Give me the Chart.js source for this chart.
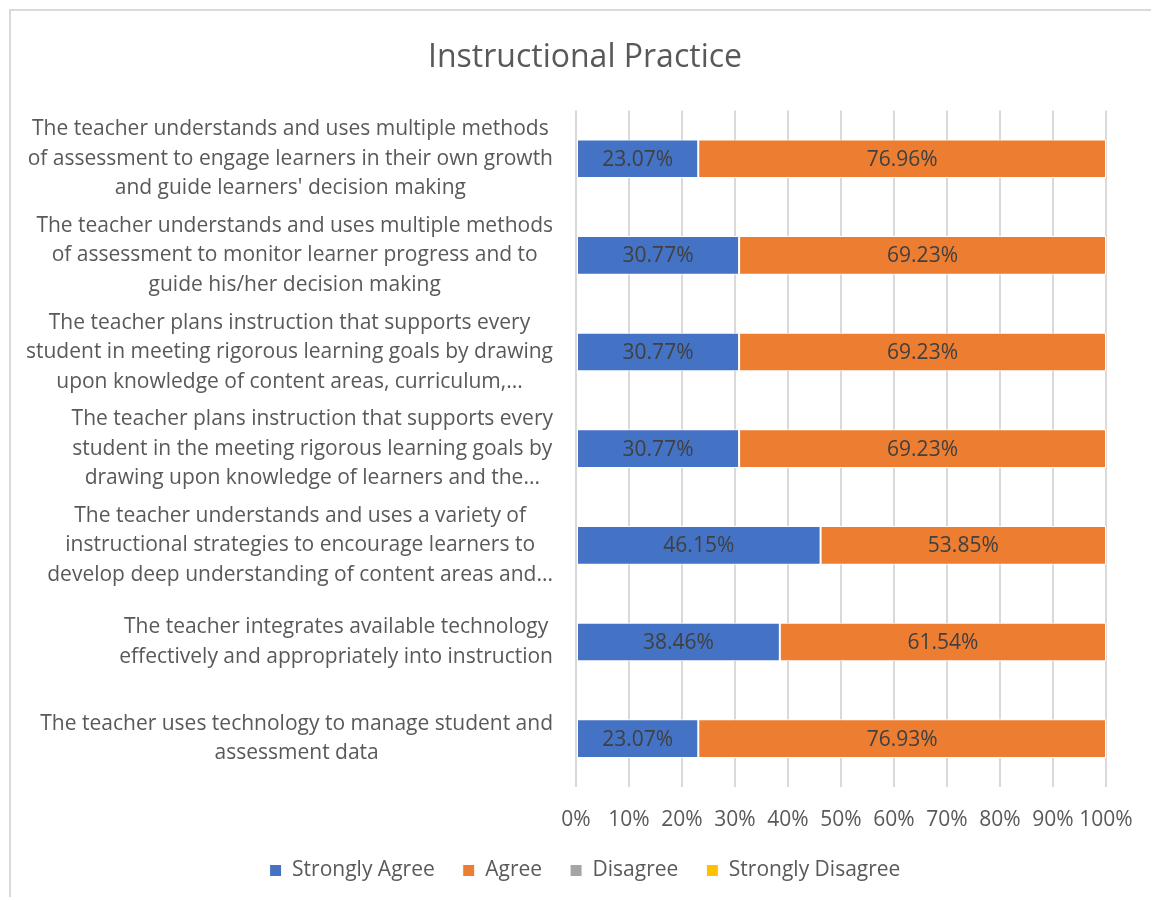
<!DOCTYPE html>
<html>
<head>
<meta charset="utf-8">
<title>Instructional Practice</title>
<script src="https://cdn.jsdelivr.net/npm/chart.js@4.4.1/dist/chart.umd.min.js"></script>
<style>
    html, body { margin: 0; padding: 0; background: #ffffff; overflow: hidden; }
    #frame {
        position: absolute; left: 9px; top: 9px; width: 1140px; height: 886px;
        border-left: 2px solid #d9d9d9; border-top: 2px solid #d9d9d9;
    }
    #wrap { position: absolute; left: 0; top: 0; width: 1154px; height: 900px; }
</style>
</head>
<body>
<div id="frame"></div>
<div id="wrap"><canvas id="myChart" width="1154" height="900"></canvas></div>
<script>
// categories, top to bottom (line breaks as in the picture)
const categories = [
    ["The teacher understands and uses multiple methods", "of assessment to engage learners in their own growth", "and guide learners' decision making"],
    ["The teacher understands and uses multiple methods", "of assessment to monitor learner progress and to", "guide his/her decision making"],
    ["The teacher plans instruction that supports every", "student in meeting rigorous learning goals by drawing", "upon knowledge of content areas, curriculum,..."],
    ["The teacher plans instruction that supports every", "student in the meeting rigorous learning goals by", "drawing upon knowledge of learners and the..."],
    ["The teacher understands and uses a variety of", "instructional strategies to encourage learners to", "develop deep understanding of content areas and..."],
    ["The teacher integrates available technology", "effectively and appropriately into instruction"],
    ["The teacher uses technology to manage student and", "assessment data"]
];

const stronglyAgree    = [23.07, 30.77, 30.77, 30.77, 46.15, 38.46, 23.07];
const agree            = [76.96, 69.23, 69.23, 69.23, 53.85, 61.54, 76.93];
const disagree         = [0, 0, 0, 0, 0, 0, 0];
const stronglyDisagree = [0, 0, 0, 0, 0, 0, 0];

const seriesNames = ['Strongly Agree', 'Agree', 'Disagree', 'Strongly Disagree'];
const seriesColors = ['#4472C4', '#ED7D31', '#A5A5A5', '#FFC000'];
const xTicks = [0, 10, 20, 30, 40, 50, 60, 70, 80, 90, 100];

const FONT = '"Open Sans", "Noto Sans", sans-serif';
const TEXT = '#595959';

// 100% stacked: scale each row to its total
const raw = [stronglyAgree, agree, disagree, stronglyDisagree];
const totals = categories.map((c, i) => raw.reduce((s, arr) => s + arr[i], 0));

// category labels: block right aligned, lines centred inside the block (like Excel)
const leftLabels = {
    id: 'leftLabels',
    afterDraw(chart) {
        const ctx = chart.ctx;
        const y = chart.scales.y;
        ctx.save();
        ctx.font = '21px ' + FONT;
        ctx.fillStyle = TEXT;
        ctx.textAlign = 'center';
        ctx.textBaseline = 'middle';
        const right = chart.chartArea.left - 23;
        const lh = 29.5;
        categories.forEach((lines, i) => {
            const w = Math.max(...lines.map(l => ctx.measureText(l).width));
            const cx = right - w / 2;
            const cy = y.getPixelForTick(i);
            lines.forEach((l, j) => {
                ctx.fillText(l, cx, cy + (j - (lines.length - 1) / 2) * lh);
            });
        });
        ctx.restore();
    }
};

// value labels inside the bars
const valueLabels = {
    id: 'valueLabels',
    afterDatasetsDraw(chart) {
        const ctx = chart.ctx;
        ctx.save();
        ctx.font = '21px ' + FONT;
        ctx.fillStyle = '#404040';
        ctx.textAlign = 'center';
        ctx.textBaseline = 'middle';
        raw.forEach((arr, di) => {
            chart.getDatasetMeta(di).data.forEach((bar, i) => {
                if (!arr[i]) return;
                const p = bar.getCenterPoint();
                ctx.fillText(arr[i].toFixed(2) + '%', p.x, p.y + 1);
            });
        });
        ctx.restore();
    }
};

const ctx = document.getElementById('myChart').getContext('2d');
const myChart = new Chart(ctx, {
    type: 'bar',
    data: {
        labels: categories,
        datasets: raw.map((arr, k) => ({
            label: seriesNames[k],
            data: arr.map((v, i) => v / totals[i] * 100),
            backgroundColor: seriesColors[k],
            borderColor: '#ffffff',
            borderWidth: 1,
            borderSkipped: false,
            barPercentage: 0.4,
            categoryPercentage: 1
        }))
    },
    options: {
        indexAxis: 'y',
        responsive: false,
        animation: false,
        layout: { padding: { top: 29, left: 64, right: 48, bottom: 9 } },
        plugins: {
            title: {
                display: true,
                text: 'Instructional Practice',
                color: TEXT,
                font: { family: FONT, size: 32, weight: 'normal' },
                padding: { top: 10, bottom: 33 }
            },
            legend: {
                position: 'bottom',
                labels: {
                    color: TEXT,
                    font: { family: FONT, size: 21 },
                    boxWidth: 12,
                    boxHeight: 12,
                    padding: 28
                }
            },
            tooltip: { enabled: false }
        },
        scales: {
            x: {
                stacked: true,
                min: 0,
                max: 100,
                afterBuildTicks: (scale) => { scale.ticks = xTicks.map(v => ({ value: v })); },
                ticks: {
                    color: TEXT,
                    font: { family: FONT, size: 21 },
                    padding: 20,
                    maxRotation: 0,
                    minRotation: 0,
                    autoSkip: false,
                    callback: (v) => v + '%'
                },
                grid: { color: '#d9d9d9', lineWidth: 2, drawTicks: false },
                border: { display: false },
                afterFit: (scale) => { scale.height = 45; }
            },
            y: {
                stacked: true,
                ticks: { display: false },
                grid: { display: false },
                border: { display: false },
                afterFit: (scale) => { scale.width = 512; }
            }
        }
    },
    plugins: [valueLabels, leftLabels]
});
</script>
</body>
</html>
